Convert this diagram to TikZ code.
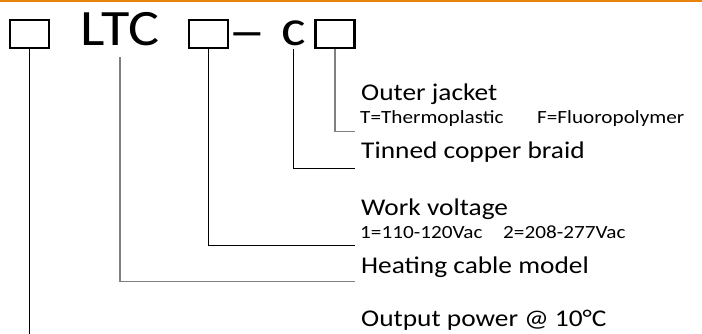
\documentclass[tikz,border=0pt]{standalone}
\usepackage{fontspec}
\setmainfont{Carlito}[FakeStretch=1.14]
\usepackage{tikz}
\definecolor{bandorange}{RGB}{232,131,12}
\definecolor{leadgray}{RGB}{128,128,128}

\begin{document}
\begin{tikzpicture}
[x=1pt,y=-1pt, codebox/.style={rectangle,draw=black,line width=2.2pt,minimum width=39pt,minimum height=28pt,inner sep=0pt},
bigtext/.style={font=\fontsize{51}{51}\selectfont,inner sep=0pt,anchor=base},
labeltext/.style={font=\fontsize{24}{24}\selectfont,inner sep=0pt,anchor=base west},
subtext/.style={font=\fontsize{18.6}{18.6}\selectfont,inner sep=0pt,anchor=base west},
blacklead/.style={draw=black,line width=1pt},
graylead/.style={draw=leadgray,line width=1.3pt},]
\useasboundingbox (0,0) rectangle (702,334);
\fill[bandorange] (0,0) rectangle (702,2);
% code row
\node[codebox] (boxpower) at (29.5,34) {};
\node[bigtext] (model) at (120,46) {LTC};
\node[codebox] (boxvolt) at (208.5,34) {};
\node[bigtext] (dash) at (247,49) {\scalebox{1.3}[1]{–}};
\node[bigtext] (braidc) at (293.5,46) {c};
\node[codebox] (boxjacket) at (335,34) {};
% labels
\node[labeltext] (jacket) at (361,101) {Outer jacket};
\node[subtext] (plastic) at (360,124) {T=Thermoplastic};
\node[subtext] (fluoro) at (537,124) {F=Fluoropolymer};
\node[labeltext] (braid) at (361,159) {Tinned copper braid};
\node[labeltext] (volt) at (361,215.5) {Work voltage};
\node[subtext] (lowvolt) at (360,238) {1=110-120Vac};
\node[subtext] (highvolt) at (503,238) {2=208-277Vac};
\node[labeltext] (cable) at (361,273) {Heating cable model};
\node[labeltext] (power) at (361,326.5) {Output power @ 10°C};
% leads
\coordinate (jacketend) at (355,131.7);
\coordinate (braidend) at (355,168.3);
\coordinate (voltend) at (355,245);
\coordinate (cableend) at (355,281.7);
\coordinate (powerend) at (29.5,334);
\draw[graylead] (boxjacket.south) |- (jacketend);
\draw[blacklead] ([yshift=-3pt]braidc.base) |- (braidend);
\draw[blacklead] (boxvolt.south) |- (voltend);
\draw[graylead] ([yshift=-11pt]model.base) |- (cableend);
\draw[blacklead] (boxpower.south) -- (powerend);
\end{tikzpicture}
\end{document}
